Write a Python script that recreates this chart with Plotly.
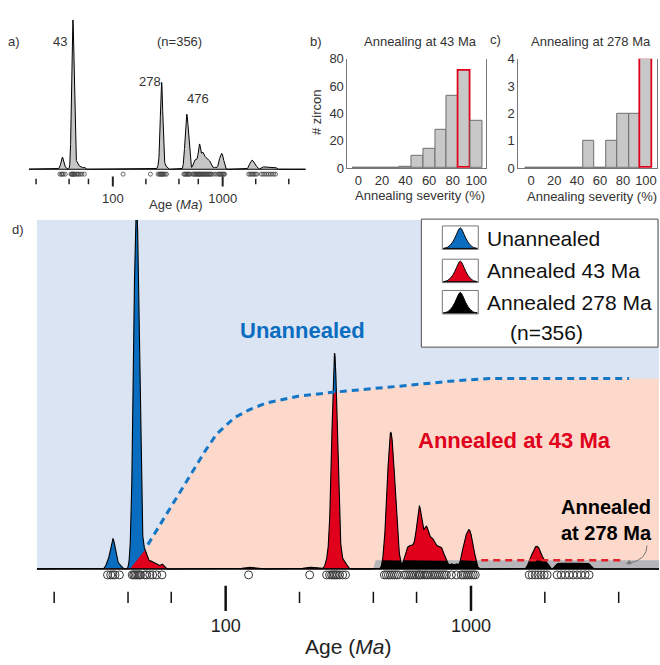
import numpy as np
import plotly.graph_objects as go

W, H = 660, 665

# Detrital zircon U-Pb ages (Ma), grouped: grains per group and 1-sigma error (%)
grain_age = [33.0, 34.0, 34.7, 35.4, 36.9,
             41.6, 42.2, 42.7, 43.3, 43.9, 44.5, 45.0,
             46.8, 47.7, 49.1, 50.4, 52.3, 55.0,
             124.0, 220.0,
             257.9, 265.3, 270.3, 274.1, 278.0, 281.9, 285.9, 291.3, 299.7, 308.0,
             443.7, 452.1, 460.7, 469.4, 478.3, 487.4, 496.6, 506.0,
             535, 545, 556, 566, 577, 588, 599, 610, 616, 622, 634, 646, 658, 667,
             683, 696, 709, 722, 736, 750, 764, 779, 794,
             832, 872,
             913, 930, 948, 966, 984, 1003, 1022, 1041,
             1727, 1776, 1827, 1879, 1932, 1987, 2044,
             2245, 2331, 2420, 2512, 2608, 2708, 2811, 2919, 3030]
grain_n = [1, 2, 4, 2, 1,
           4, 12, 22, 34, 22, 12, 4,
           3, 1, 1, 1, 1, 1,
           1, 1,
           1, 3, 6, 15, 18, 15, 6, 3, 1, 1,
           2, 5, 10, 14, 11, 9, 4, 2,
           1, 2, 2, 2, 2, 2, 3, 4, 4, 4, 3, 3, 4, 3,
           3, 3, 2, 2, 2, 2, 2, 1, 1,
           1, 1,
           1, 2, 3, 3, 4, 3, 2, 1,
           1, 2, 3, 3, 2, 1, 1,
           1, 1, 1, 1, 1, 1, 1, 1, 1]
grain_err = [1.75] * 18 + [5.0, 5.0] + [1.75] * 58 + [2.0] * 9

# Age axis ticks (Ma)
tick_minor = [20, 40, 60, 200, 400, 600, 2000, 4000]
tick_major = [100, 1000]

# Annealing severity histograms
severity_bins = [0, 10, 20, 30, 40, 50, 60, 70, 80, 90, 100]
count_43 = [0, 0, 0, 0, 1, 9, 14, 28, 53, 71, 35]
count_278 = [0, 0, 0, 0, 0, 1, 0, 1, 2, 2, 4]

# Annealing fronts (fraction of the panel height) versus age
front43_age = [40.7, 46.8, 48.2, 53.9, 62.0, 72.7, 82.1, 91.9, 108.8, 125.2,
               146.8, 200.1, 277.8, 510.9, 815.9, 1187, 4410, 6000]
front43_frac = [0.0, 0.053, 0.070, 0.126, 0.196, 0.272, 0.336, 0.387, 0.434, 0.457,
                0.476, 0.496, 0.507, 0.524, 0.538, 0.546, 0.546, 0.546]
front278_age = [400, 406, 1101, 4129, 6000]
front278_frac = [0.0, 0.025, 0.025, 0.025, 0.025]
dash43_span = (48.2, 4410)
dash278_span = (1101, 4129)

FONT = "Liberation Sans, Arial, sans-serif"
BLUE_BG = "#dbe4f3"
PINK = "#fcd9cb"
GREY_BAND = "#b5b5ba"
BLUE = "#0a6dbf"
RED = "#e0001b"
DASH_BLUE = "#1576c6"
DASH_RED = "#e4202a"
TXT = "#333333"


def px(x):
    return x / W


def py(y):
    return 1 - y / H


# ---- density (sum of grain age probability curves, in log-age space)
age = np.asarray(grain_age, float)
n = np.asarray(grain_n, float)
sig = np.log10(1 + np.asarray(grain_err, float) / 100)
u = np.linspace(1.15, 3.85, 6000)
z = (u[:, None] - np.log10(age)[None, :]) / sig[None, :]
dens = (n * np.exp(-0.5 * z ** 2) / sig).sum(axis=1) / (np.sqrt(2 * np.pi) * n.sum())
xs = 10 ** u
fmax = dens.max()
n_total = int(n.sum())

# ---- panel geometry (pixels)
A_L, A_R, A_TOP, A_BASE, A_BOT = 29, 306, 13, 166, 186
D_L, D_R, D_TOP, D_BASE, D_BOT = 37, 660, 218, 575, 620
B_L, B_R, C_L, C_R, H_TOP, H_BOT = 348, 487, 519, 658, 53, 165

ka = fmax / (A_BASE - A_TOP)
ya_range = [-(A_BOT - A_BASE) * ka, fmax]
yd_top = fmax * 357 / 380
kd = yd_top / (D_BASE - D_TOP)
yd_range = [-(D_BOT - D_BASE) * kd, yd_top]

h43 = np.interp(u, np.log10(front43_age), front43_frac) * yd_top
h278 = np.interp(u, np.log10(front278_age), front278_frac) * yd_top

fig = go.Figure()

# ---- panel a: whole-sample age spectrum
fig.add_trace(go.Scatter(x=xs, y=dens, mode="lines", fill="tozeroy",
                         fillcolor="#c6c6c6", line=dict(color="black", width=1),
                         xaxis="x", yaxis="y", hoverinfo="skip"))
fig.add_trace(go.Scatter(x=grain_age, y=[-(171 - A_BASE) * ka] * len(grain_age),
                         mode="markers", xaxis="x", yaxis="y",
                         marker=dict(symbol="circle-open", size=4, color="#444",
                                     line=dict(width=0.8, color="#444"))))
fig.add_trace(go.Scatter(x=tick_minor, y=[-(178.5 - A_BASE) * ka] * len(tick_minor),
                         mode="markers", xaxis="x", yaxis="y",
                         marker=dict(symbol="line-ns", size=4, color="#222",
                                     line=dict(width=1.5, color="#222"))))
fig.add_trace(go.Scatter(x=tick_major, y=[-(178.5 - A_BASE) * ka] * len(tick_major),
                         mode="markers", xaxis="x", yaxis="y",
                         marker=dict(symbol="line-ns", size=7, color="#222",
                                     line=dict(width=2, color="#222"))))

# ---- panel d: age spectrum split by annealing front
fig.add_trace(go.Scatter(x=xs, y=h43, mode="lines", fill="tozeroy", fillcolor=PINK,
                         line=dict(width=0), xaxis="x2", yaxis="y2", hoverinfo="skip"))
fig.add_trace(go.Scatter(x=xs, y=h278, mode="lines", fill="tozeroy", fillcolor=GREY_BAND,
                         line=dict(width=0), xaxis="x2", yaxis="y2", hoverinfo="skip"))
fig.add_trace(go.Scatter(x=xs, y=dens, mode="lines", fill="tozeroy", fillcolor=BLUE,
                         line=dict(width=0), xaxis="x2", yaxis="y2", hoverinfo="skip"))
fig.add_trace(go.Scatter(x=xs, y=np.minimum(dens, h43), mode="lines", fill="tozeroy",
                         fillcolor=RED, line=dict(width=0), xaxis="x2", yaxis="y2",
                         hoverinfo="skip"))
fig.add_trace(go.Scatter(x=xs, y=np.minimum(dens, h278), mode="lines", fill="tozeroy",
                         fillcolor="black", line=dict(width=0), xaxis="x2", yaxis="y2",
                         hoverinfo="skip"))
fig.add_trace(go.Scatter(x=xs, y=dens, mode="lines", line=dict(color="black", width=1.1),
                         xaxis="x2", yaxis="y2", hoverinfo="skip"))

f43a = np.asarray(front43_age)
sel = (f43a >= dash43_span[0]) & (f43a <= dash43_span[1])
fig.add_trace(go.Scatter(x=f43a[sel], y=np.asarray(front43_frac)[sel] * yd_top,
                         mode="lines", xaxis="x2", yaxis="y2",
                         line=dict(color=DASH_BLUE, width=3, dash="7px,5px")))
f278a = np.asarray(front278_age)
sel2 = (f278a >= dash278_span[0]) & (f278a <= dash278_span[1])
fig.add_trace(go.Scatter(x=f278a[sel2], y=np.asarray(front278_frac)[sel2] * yd_top,
                         mode="lines", xaxis="x2", yaxis="y2",
                         line=dict(color=DASH_RED, width=2.5, dash="7px,5px")))

fig.add_trace(go.Scatter(x=grain_age, y=[-(581 - D_BASE) * kd] * len(grain_age),
                         mode="markers", xaxis="x2", yaxis="y2",
                         marker=dict(symbol="circle-open", size=8, color="#3a3a3a",
                                     line=dict(width=1, color="#3a3a3a"))))
fig.add_trace(go.Scatter(x=tick_minor, y=[-(604 - D_BASE) * kd] * len(tick_minor),
                         mode="markers", xaxis="x2", yaxis="y2",
                         marker=dict(symbol="line-ns", size=8, color="#111",
                                     line=dict(width=1.5, color="#111"))))
fig.add_trace(go.Scatter(x=tick_major, y=[-(605 - D_BASE) * kd] * len(tick_major),
                         mode="markers", xaxis="x2", yaxis="y2",
                         marker=dict(symbol="line-ns", size=18, color="#111",
                                     line=dict(width=2.5, color="#111"))))

# ---- panels b and c: annealing severity histograms
for counts, xa, ya in [(count_43, "x3", "y3"), (count_278, "x4", "y4")]:
    top = int(np.argmax(counts))
    fig.add_trace(go.Bar(x=severity_bins, y=counts, width=10, xaxis=xa, yaxis=ya,
                         marker=dict(color="#c8c8c8",
                                     line=dict(color=[RED if i == top else "#6e6e6e"
                                                      for i in range(len(counts))],
                                               width=[1.8 if i == top else 1
                                                      for i in range(len(counts))]))))

hist_x = dict(showline=True, linecolor="#777", linewidth=1, ticks="", showgrid=False,
              zeroline=False, tickfont=dict(size=13, color=TXT, family=FONT),
              tickvals=[0, 20, 40, 60, 80, 100])
hist_y = dict(showline=True, linecolor="#777", linewidth=1, mirror=True, ticks="",
              showgrid=False, zeroline=False,
              tickfont=dict(size=13, color=TXT, family=FONT))

fig.update_layout(
    width=W, height=H, margin=dict(l=0, r=0, t=0, b=0),
    paper_bgcolor="white", plot_bgcolor="white", showlegend=False,
    font=dict(family=FONT, color=TXT),
    bargap=0,
    xaxis=dict(type="log", range=[1.2364, 3.7545], domain=[px(A_L), px(A_R)],
               tickvals=tick_major, ticktext=["100", "1000"], ticks="", showgrid=False,
               showline=False, zeroline=False, anchor="y",
               tickfont=dict(size=13, color=TXT, family=FONT)),
    yaxis=dict(range=ya_range, domain=[py(A_BOT), py(A_TOP)], visible=False, anchor="x"),
    xaxis2=dict(type="log", range=[1.2308, 3.7664], domain=[px(D_L), 1.0],
                tickvals=tick_major, ticktext=["100", "1000"], ticks="", showgrid=False,
                showline=False, zeroline=False, anchor="y2",
                tickfont=dict(size=18, color="#222", family=FONT)),
    yaxis2=dict(range=yd_range, domain=[py(D_BOT), py(D_TOP)], visible=False, anchor="x2"),
    xaxis3=dict(range=[-9.3, 108.5], domain=[px(B_L), px(B_R)], anchor="y3", **hist_x),
    yaxis3=dict(range=[0, 80], domain=[py(H_BOT), py(H_TOP)], anchor="x3",
                tickvals=[0, 20, 40, 60, 80], **hist_y),
    xaxis4=dict(range=[-11.3, 109.6], domain=[px(C_L), px(C_R)], anchor="y4", **hist_x),
    yaxis4=dict(range=[0, 4], domain=[py(H_BOT), py(H_TOP)], anchor="x4",
                tickvals=[0, 1, 2, 3, 4], **hist_y),
)

shapes = [
    dict(type="rect", xref="x2 domain", yref="y2", x0=0, x1=1, y0=0, y1=yd_top,
         fillcolor=BLUE_BG, line=dict(width=0), layer="below"),
    dict(type="line", xref="x domain", yref="y", x0=0, x1=1, y0=0, y1=0,
         line=dict(color="black", width=1)),
    dict(type="line", xref="x2 domain", yref="y2", x0=0, x1=1, y0=0, y1=0,
         line=dict(color="black", width=1.5)),
    # legend frame
    dict(type="rect", xref="paper", yref="paper", x0=px(422), x1=px(659),
         y0=py(348), y1=py(217), fillcolor="white", line=dict(color="#505050", width=1)),
]

# legend icons: small framed peaks
for yc, col in [(236, BLUE), (270, RED), (302, "black")]:
    yt, yb = yc - 12, yc + 12
    shapes.append(dict(type="rect", xref="paper", yref="paper", x0=px(443), x1=px(479),
                       y0=py(yb), y1=py(yt), fillcolor="white",
                       line=dict(color="#777", width=1)))
    pts = [(444, yb - 1), (455, yb - 1), (458, yt + 2), (461, yt + 2),
           (464, yt + 2), (467, yb - 1), (478, yb - 1)]
    p = [f"{px(a):.5f},{py(b):.5f}" for a, b in pts]
    path = f"M {p[0]} C {p[1]} {p[2]} {p[3]} C {p[4]} {p[5]} {p[6]} Z"
    shapes.append(dict(type="path", xref="paper", yref="paper", path=path,
                       fillcolor=col, line=dict(color="black", width=1)))

# curved pointer to the 278 Ma band
shapes.append(dict(type="path", xref="paper", yref="paper",
                   path=f"M {px(648)},{py(551)} Q {px(648)},{py(565)} {px(631)},{py(569)}",
                   line=dict(color="#777", width=1)))
fig.update_layout(shapes=shapes)


def ann(x, y, text, size=13, color=TXT, xanchor="center", angle=0):
    return dict(x=px(x), y=py(y), xref="paper", yref="paper", text=text,
                showarrow=False, xanchor=xanchor, yanchor="middle", textangle=angle,
                font=dict(size=size, color=color, family=FONT))


annotations = [
    ann(14, 35, "a)"), ann(60, 35, "43"), ann(180, 35, f"(n={n_total})"),
    ann(150, 76, "278"), ann(198, 94, "476"), ann(176, 202, "Age (<i>Ma</i>)"),
    ann(316, 35, "b)"), ann(421, 35, "Annealing at 43 Ma"),
    ann(317, 108, "# zircon", angle=-90), ann(421, 193, "Annealing severity (%)"),
    ann(496, 33, "c)"), ann(592, 35, "Annealing at 278 Ma"),
    ann(593, 194, "Annealing severity (%)"),
    ann(18, 228, "d)"),
    ann(303, 331, "<b>Unannealed</b>", size=22, color=BLUE),
    ann(515, 443, "<b>Annealed at 43 Ma</b>", size=22, color=RED),
    dict(x=px(655), y=py(525), xref="paper", yref="paper",
         text="<b>Annealed<br>at 278 Ma</b>", showarrow=False, xanchor="right",
         yanchor="middle", align="right",
         font=dict(size=20, color="black", family=FONT)),
    ann(486, 237, "Unannealed", size=21, color="#111", xanchor="left"),
    ann(486, 270, "Annealed 43 Ma", size=21, color="#111", xanchor="left"),
    ann(486, 302, "Annealed 278 Ma", size=21, color="#111", xanchor="left"),
    ann(547, 333, f"(n={n_total})", size=21, color="#111"),
    ann(349, 654, "Age (<i>Ma</i>)", size=21, color="#222"),
    dict(x=px(627), y=py(570), xref="paper", yref="paper", text="", showarrow=True,
         ax=6, ay=-3, arrowhead=2, arrowsize=1, arrowwidth=1, arrowcolor="#777"),
]
fig.update_layout(annotations=annotations)

fig.write_html("out.html")
